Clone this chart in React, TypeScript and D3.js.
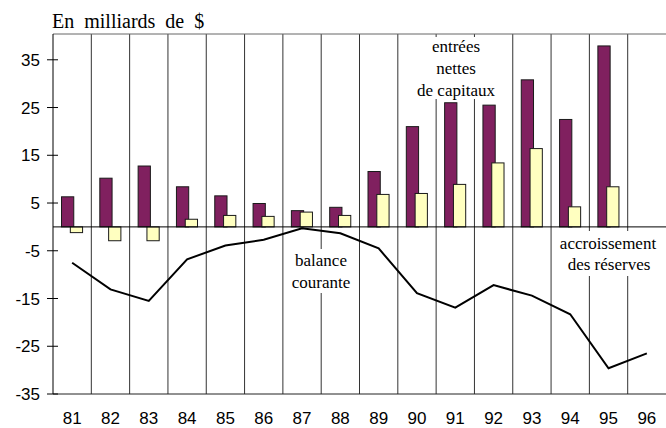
import React from "react";
import * as d3 from "d3";

const years = ["81","82","83","84","85","86","87","88","89","90","91","92","93","94","95","96"];
const entreesNettes: (number | null)[] = [6.3,10.2,12.75,8.4,6.5,4.9,3.4,4.1,11.6,21.0,26.0,25.5,30.8,22.5,37.9,null];
const accroissementReserves: (number | null)[] = [-1.2,-2.9,-2.9,1.6,2.4,2.2,3.1,2.4,6.8,7.0,8.9,13.4,16.4,4.2,8.4,null];
const balanceCourante: number[] = [-7.5,-13.1,-15.5,-6.8,-3.9,-2.7,-0.3,-1.35,-4.5,-13.9,-16.9,-12.2,-14.4,-18.3,-29.6,-26.5];
const yTicks = [35,25,15,5,-5,-15,-25,-35];

const W = 666, H = 428;
const left = 53, right = 666, top = 34, bottom = 394;
const serif = "\"Liberation Serif\", \"Times New Roman\", Tinos, \"DejaVu Serif\", serif";
const sans = "\"Liberation Sans\", Arial, Arimo, Helvetica, sans-serif";

export default function App() {
  const x = d3.scaleBand<string>().domain(years).range([left, right]).padding(0);
  const y = d3.scaleLinear().domain([-35, 40.4]).range([bottom, top]);
  const bw = x.bandwidth();
  const y0 = y(0);
  const line = d3.line<number>()
    .x((_, i) => (x(years[i]) as number) + bw / 2)
    .y((d) => y(d));

  const barRect = (v: number | null, i: number, off: number, fill: string, key: string) => {
    if (v == null) return null;
    const bx = (x(years[i]) as number) + bw * off;
    const yy = y(Math.max(0, v));
    const h = Math.abs(y(v) - y0);
    return <rect key={key} x={bx} y={yy} width={bw * 0.32} height={h} fill={fill} stroke="#1a1a1a" strokeWidth={1} />;
  };

  return (
    <svg width={W} height={H} style={{ position: "absolute", left: 0, top: 0, background: "#fff" }}>
      <text x={52} y={28} style={{ fontFamily: serif, fontSize: "20px", wordSpacing: "5px" }} fill="#000">En milliards de $</text>
      {years.slice(1).map((yr) => (
        <line key={yr} x1={x(yr)} x2={x(yr)} y1={top} y2={bottom} stroke="#333" strokeWidth={1} />
      ))}
      <line x1={left} x2={right} y1={top} y2={top} stroke="#666" strokeWidth={1} />
      <line x1={left} x2={right} y1={bottom} y2={bottom} stroke="#222" strokeWidth={1} />
      <line x1={left} x2={left} y1={top} y2={bottom} stroke="#000" strokeWidth={1} />
      {yTicks.map((t) => (
        <g key={t}>
          <line x1={47} x2={58} y1={y(t)} y2={y(t)} stroke="#000" strokeWidth={1} />
          <text x={40} y={y(t) + 6} textAnchor="end" style={{ fontFamily: sans, fontSize: "17px" }} fill="#000">{t}</text>
        </g>
      ))}
      {years.map((yr) => (
        <text key={yr} x={(x(yr) as number) + bw / 2} y={424} textAnchor="middle" style={{ fontFamily: sans, fontSize: "17px" }} fill="#000">{yr}</text>
      ))}
      <rect x={416} y={37} width={80} height={62} fill="#fff" />
      <rect x={290} y={249} width={62} height={44} fill="#fff" />
      <rect x={556} y={231} width={104} height={45} fill="#fff" />
      <g style={{ fontFamily: serif, fontSize: "17px" }} fill="#000" textAnchor="middle">
        <text x={456} y={52}>entrées</text>
        <text x={456} y={74}>nettes</text>
        <text x={456} y={96}>de capitaux</text>
        <text x={321} y={266}>balance</text>
        <text x={321} y={288}>courante</text>
        <text x={608} y={249}>accroissement</text>
        <text x={609} y={270}>des réserves</text>
      </g>
      {entreesNettes.map((v, i) => barRect(v, i, 0.222, "#80205f", "p" + i))}
      {accroissementReserves.map((v, i) => barRect(v, i, 0.452, "#ffffc0", "y" + i))}
      <line x1={left} x2={right} y1={y0} y2={y0} stroke="#000" strokeWidth={1} />
      <path d={line(balanceCourante) || ""} fill="none" stroke="#000" strokeWidth={2} strokeLinejoin="miter" />
    </svg>
  );
}
